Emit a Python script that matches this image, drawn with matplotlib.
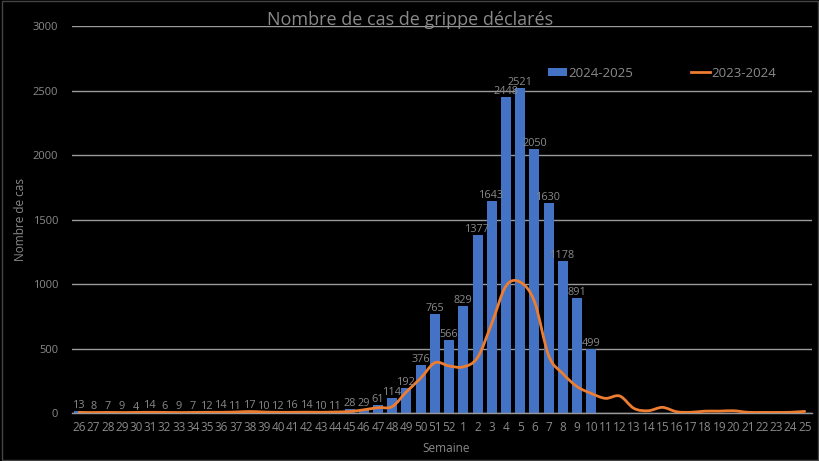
import matplotlib
matplotlib.use("Agg")
import matplotlib.pyplot as plt
from matplotlib.path import Path
from matplotlib.patches import PathPatch
from matplotlib.lines import Line2D
import numpy as np

weeks = [str(w) for w in list(range(26, 53)) + list(range(1, 26))]
cases_2024_2025 = [13, 8, 7, 9, 4, 14, 6, 9, 7, 12, 14, 11, 17, 10, 12, 16, 14, 10, 11, 28,
                   29, 61, 114, 192, 376, 765, 566,
                   829, 1377, 1643, 2448, 2521, 2050, 1630, 1178, 891, 499]
cases_2023_2024 = [5, 4, 5, 4, 5, 6, 5, 4, 5, 6, 6, 8, 12, 8, 6, 6, 7, 6, 8,
                   12, 25, 42, 50, 165, 270, 390, 365,
                   358, 430, 695, 985, 1015, 865, 445, 305, 205, 152, 114, 132, 36, 18, 44,
                   10, 6, 15, 15, 18, 6, 5, 5, 6, 13]
title = "Nombre de cas de grippe déclarés"
ylabel = "Nombre de cas"
xlabel = "Semaine"
yticks = [0, 500, 1000, 1500, 2000, 2500, 3000]

plt.rcParams['font.family'] = ['Open Sans', 'DejaVu Sans']
TXT = '#8a8a8a'
BLUE = '#4472C4'
ORANGE = '#ED7D31'

fig = plt.figure(figsize=(8.2, 4.61), dpi=100, facecolor='black')
ax = fig.add_axes([0.088, 0.104, 0.902, 0.8396], facecolor='black')

x_all = np.arange(len(weeks))
x_bar = np.arange(len(cases_2024_2025))

ax.set_ylim(0, 3000)
ax.set_xlim(-0.5, len(weeks) - 0.5)
ax.set_yticks(yticks)
ax.yaxis.grid(True, color='#9a9a9a', linewidth=1.0)
ax.set_axisbelow(True)

bars = ax.bar(x_bar, cases_2024_2025, width=0.7, color=BLUE, zorder=2,
              label='2024-2025')
ax.bar_label(bars, labels=[str(v) for v in cases_2024_2025], padding=0,
             color=TXT, fontsize=7.8, zorder=4)

# smoothed line (Bezier through data points, like Excel smoothing)
pts = np.column_stack([x_all, cases_2023_2024]).astype(float)
verts = [tuple(pts[0])]
codes = [Path.MOVETO]
n = len(pts)
for i in range(n - 1):
    p0 = pts[i - 1] if i > 0 else pts[i]
    p1 = pts[i]
    p2 = pts[i + 1]
    p3 = pts[i + 2] if i + 2 < n else pts[i + 1]
    c1 = p1 + (p2 - p0) / 6.0
    c2 = p2 - (p3 - p1) / 6.0
    verts += [tuple(c1), tuple(c2), tuple(p2)]
    codes += [Path.CURVE4, Path.CURVE4, Path.CURVE4]
path = Path(verts, codes)
ax.add_patch(PathPatch(path, facecolor='none', edgecolor=ORANGE, linewidth=2.0,
                       zorder=3, transform=ax.transData, capstyle='round'))
line_handle = Line2D([], [], color=ORANGE, linewidth=2.0, label='2023-2024')

ax.set_xticks(x_all)
ax.set_xticklabels(weeks)
ax.tick_params(axis='x', colors=TXT, labelsize=8.5, length=0, pad=6)
ax.tick_params(axis='y', colors=TXT, labelsize=8, length=0, pad=10)
for s in ['top', 'right', 'left']:
    ax.spines[s].set_visible(False)
ax.spines['bottom'].set_color('#9a9a9a')
ax.spines['bottom'].set_linewidth(1.0)

ax.set_ylabel(ylabel, color=TXT, fontsize=8.5, labelpad=4)
ax.set_xlabel(xlabel, color=TXT, fontsize=8.5)
ax.xaxis.set_label_coords(0.505, -0.075)

fig.text(0.5, 0.957, title, ha='center', va='center', color=TXT, fontsize=13)

leg = ax.legend(handles=[bars, line_handle], loc='center left',
                bbox_to_anchor=(0.635, 0.878), ncol=2, frameon=False,
                fontsize=9.5, labelcolor=TXT, handlelength=1.4, handleheight=0.6,
                handletextpad=0.1, columnspacing=4.4, borderpad=0)

fig.patches.append(plt.Rectangle((0.002, 0.002), 0.996, 0.996, transform=fig.transFigure,
                                 fill=False, edgecolor='#444444', linewidth=1))

fig.savefig('out.png', dpi=100, facecolor='black')
